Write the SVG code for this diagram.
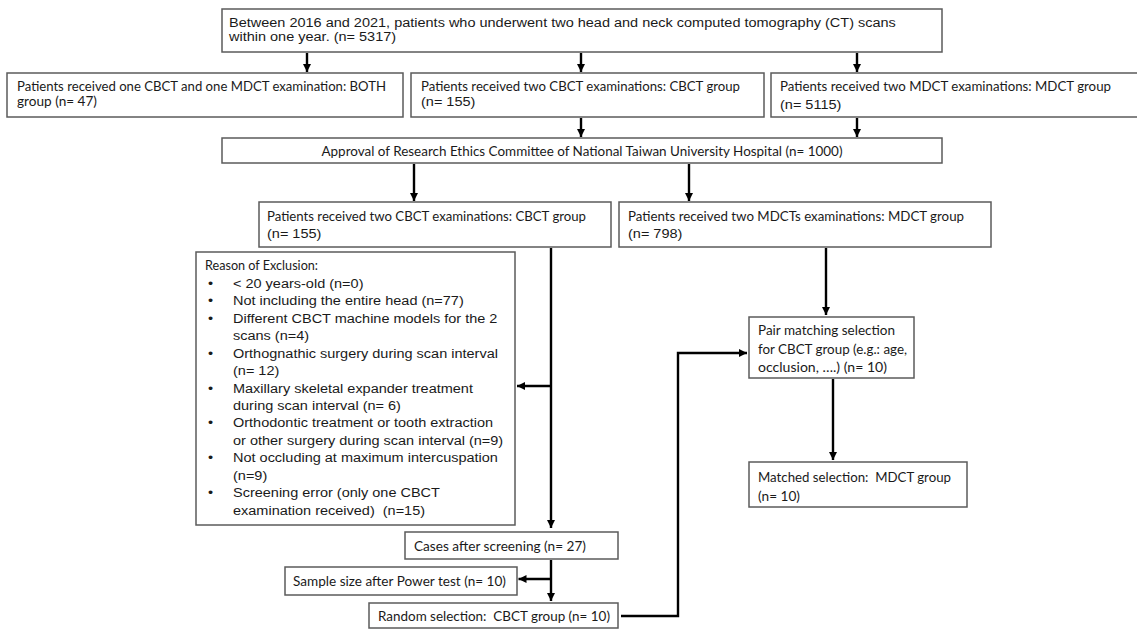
<svg xmlns="http://www.w3.org/2000/svg" width="1137" height="629" viewBox="0 0 1137 629">
<style>
.bg{fill:#fff}
.box{fill:#fff;stroke:#5b5b5b;stroke-width:1.5}
.cal{font-family:Lato,"Open Sans","Liberation Sans",sans-serif;font-size:13px;fill:#1a1a1a}
.ar{font-family:"Liberation Sans",Arial,sans-serif;font-size:14.5px;fill:#1a1a1a}
.con{fill:none;stroke:#000;stroke-width:2.4;marker-end:url(#ah)}
</style>
<defs>
<marker id="ah" markerUnits="userSpaceOnUse" markerWidth="9" markerHeight="9" refX="8" refY="4.5" orient="auto">
<path d="M0,0.5 L8,4.5 L0,8.5 z" fill="#000"/>
</marker>
</defs>
<rect class="bg" x="0" y="0" width="1137" height="629"/>

<g id="connectors">
<path class="con" d="M307,53 V72"/>
<path class="con" d="M581,53 V72"/>
<path class="con" d="M857,53 V72"/>
<path class="con" d="M581,118 V137"/>
<path class="con" d="M857,118 V137"/>
<path class="con" d="M414,164 V201"/>
<path class="con" d="M689,164 V201"/>
<path class="con" d="M551,248 V528"/>
<path class="con" d="M551,386 H517"/>
<path class="con" d="M826,248 V315"/>
<path class="con" d="M833,379 V460"/>
<path class="con" d="M551,560 V601"/>
<path class="con" d="M551,579 H518.5"/>
<path class="con" d="M621,616 H678 V353 H747"/>
</g>

<g id="n_top">
<rect class="box" x="222" y="9" width="720" height="43"/>
<text class="ar" transform="translate(229 27) scale(1 0.87)">Between 2016 and 2021, patients who underwent two head and neck computed tomography (CT) scans</text>
<text class="ar" transform="translate(229 40.5) scale(1 0.87)">within one year. (n= 5317)</text>
</g>

<g id="n_both">
<rect class="box" x="7" y="73" width="396" height="44"/>
<text class="cal" x="17" y="91" textLength="369" lengthAdjust="spacingAndGlyphs">Patients received one CBCT and one MDCT examination: BOTH</text>
<text class="cal" x="17" y="106" textLength="80" lengthAdjust="spacingAndGlyphs">group (n= 47)</text>
</g>

<g id="n_cbct1">
<rect class="box" x="411" y="73" width="353" height="44"/>
<text class="cal" x="421" y="91" textLength="319" lengthAdjust="spacingAndGlyphs">Patients received two CBCT examinations: CBCT group</text>
<text class="ar" transform="translate(421 106) scale(1 0.87)">(n= 155)</text>
</g>

<g id="n_mdct1">
<rect class="box" x="771" y="73" width="380" height="44"/>
<text class="cal" x="780" y="91" textLength="331" lengthAdjust="spacingAndGlyphs">Patients received two MDCT examinations: MDCT group</text>
<text class="ar" transform="translate(780 109) scale(1 0.87)">(n= 5115)</text>
</g>

<g id="n_approval">
<rect class="box" x="222" y="138" width="720" height="25"/>
<text class="cal" x="582" y="155.5" text-anchor="middle" textLength="521" lengthAdjust="spacingAndGlyphs">Approval of Research Ethics Committee of National Taiwan University Hospital (n= 1000)</text>
</g>

<g id="n_cbct2">
<rect class="box" x="259" y="202" width="352" height="45"/>
<text class="cal" x="267" y="220.5" textLength="319" lengthAdjust="spacingAndGlyphs">Patients received two CBCT examinations: CBCT group</text>
<text class="ar" transform="translate(267 238) scale(1 0.87)">(n= 155)</text>
</g>

<g id="n_mdct2">
<rect class="box" x="619" y="202" width="372" height="45"/>
<text class="cal" x="628" y="220.5" textLength="336" lengthAdjust="spacingAndGlyphs">Patients received two MDCTs examinations: MDCT group</text>
<text class="ar" transform="translate(628 238) scale(1 0.87)">(n= 798)</text>
</g>

<g id="n_exclusion">
<rect class="box" x="196" y="252" width="319" height="273"/>
<text class="cal" x="205" y="269.5" textLength="113" lengthAdjust="spacingAndGlyphs">Reason of Exclusion:</text>
<text class="ar" transform="translate(208 288) scale(1 0.87)">•</text>
<text class="ar" transform="translate(233 288) scale(1 0.87)">&lt; 20 years-old (n=0)</text>
<text class="ar" transform="translate(208 305.4) scale(1 0.87)">•</text>
<text class="ar" transform="translate(233 305.4) scale(1 0.87)">Not including the entire head (n=77)</text>
<text class="ar" transform="translate(208 322.8) scale(1 0.87)">•</text>
<text class="ar" transform="translate(233 322.8) scale(1 0.87)">Different CBCT machine models for the 2</text>
<text class="ar" transform="translate(233 340.3) scale(1 0.87)">scans (n=4)</text>
<text class="ar" transform="translate(208 357.7) scale(1 0.87)">•</text>
<text class="ar" transform="translate(233 357.7) scale(1 0.87)">Orthognathic surgery during scan interval</text>
<text class="ar" transform="translate(233 375.1) scale(1 0.87)">(n= 12)</text>
<text class="ar" transform="translate(208 392.5) scale(1 0.87)">•</text>
<text class="ar" transform="translate(233 392.5) scale(1 0.87)">Maxillary skeletal expander treatment</text>
<text class="ar" transform="translate(233 409.9) scale(1 0.87)">during scan interval (n= 6)</text>
<text class="ar" transform="translate(208 427.4) scale(1 0.87)">•</text>
<text class="ar" transform="translate(233 427.4) scale(1 0.87)">Orthodontic treatment or tooth extraction</text>
<text class="ar" transform="translate(233 444.8) scale(1 0.87)">or other surgery during scan interval (n=9)</text>
<text class="ar" transform="translate(208 462.2) scale(1 0.87)">•</text>
<text class="ar" transform="translate(233 462.2) scale(1 0.87)">Not occluding at maximum intercuspation</text>
<text class="ar" transform="translate(233 479.6) scale(1 0.87)">(n=9)</text>
<text class="ar" transform="translate(208 497) scale(1 0.87)">•</text>
<text class="ar" transform="translate(233 497) scale(1 0.87)">Screening error (only one CBCT</text>
<text class="ar" transform="translate(233 514.5) scale(1 0.87)" xml:space="preserve">examination received)  (n=15)</text>
</g>

<g id="n_pair">
<rect class="box" x="749" y="317" width="165" height="61"/>
<text class="cal" x="758" y="335" textLength="137" lengthAdjust="spacingAndGlyphs">Pair matching selection</text>
<text class="cal" x="758" y="354" textLength="149" lengthAdjust="spacingAndGlyphs">for CBCT group (e.g.: age,</text>
<text class="cal" x="758" y="372" textLength="129" lengthAdjust="spacingAndGlyphs">occlusion, ….) (n= 10)</text>
</g>

<g id="n_matched">
<rect class="box" x="749" y="462" width="218" height="45"/>
<text class="cal" x="758" y="481.5" textLength="193" lengthAdjust="spacingAndGlyphs" xml:space="preserve">Matched selection:  MDCT group</text>
<text class="cal" x="758" y="500.5" textLength="42" lengthAdjust="spacingAndGlyphs">(n= 10)</text>
</g>

<g id="n_cases">
<rect class="box" x="405" y="532" width="213" height="27"/>
<text class="cal" x="414" y="551" textLength="172" lengthAdjust="spacingAndGlyphs">Cases after screening (n= 27)</text>
</g>

<g id="n_sample">
<rect class="box" x="285" y="567" width="232" height="28"/>
<text class="cal" x="293" y="585.5" textLength="213" lengthAdjust="spacingAndGlyphs">Sample size after Power test (n= 10)</text>
</g>

<g id="n_random">
<rect class="box" x="369" y="603" width="249" height="25"/>
<text class="cal" x="378" y="620.5" textLength="232" lengthAdjust="spacingAndGlyphs" xml:space="preserve">Random selection:  CBCT group (n= 10)</text>
</g>
</svg>
